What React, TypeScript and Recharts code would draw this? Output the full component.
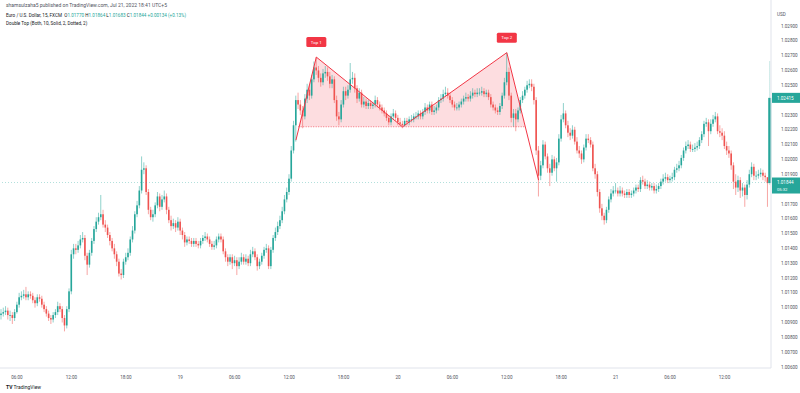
import { ComposedChart, Bar, Line, Area, XAxis, YAxis, ReferenceLine, ReferenceDot } from 'recharts';

const UP = '#26a69a';
const DOWN = '#ef5350';
const PATTERN = '#f23645';
const AXIS_TEXT = '#50535e';

const firstOpen = 1.0095;

// 15 minute closes, Jul 18 04:15 -> Jul 21
const closes = [
  1.0096, 1.0097, 1.0098, 1.0095, 1.0095, 1.0093, 1.0097, 1.0102, 1.0107, 1.0108,
  1.0109, 1.0107, 1.0109, 1.0108, 1.0105, 1.0103, 1.0107, 1.0106, 1.0102, 1.0099,
  1.0096, 1.0093, 1.0092, 1.0095, 1.0097, 1.0101, 1.0099, 1.0093, 1.0088, 1.0099,
  1.0111, 1.0136, 1.014, 1.0139, 1.0142, 1.0146, 1.0147, 1.0135, 1.0129, 1.0137,
  1.0145, 1.0153, 1.0158, 1.0161, 1.0163, 1.0156, 1.0154, 1.0149, 1.0145, 1.014,
  1.0136, 1.0131, 1.0123, 1.0122, 1.0131, 1.0134, 1.0137, 1.0146, 1.0152, 1.0163,
  1.0169, 1.0179, 1.0193, 1.0194, 1.0178, 1.0166, 1.0161, 1.0163, 1.0169, 1.0175,
  1.0168, 1.0173, 1.0175, 1.0166, 1.0159, 1.0155, 1.0157, 1.0154, 1.0158, 1.0152,
  1.0149, 1.0144, 1.0146, 1.0145, 1.0143, 1.0145, 1.0143, 1.0142, 1.0145, 1.0147,
  1.0148, 1.0146, 1.0143, 1.0141, 1.0142, 1.0146, 1.0148, 1.0146, 1.0138, 1.0134,
  1.0131, 1.0134, 1.013, 1.0132, 1.0128, 1.0131, 1.0134, 1.0131, 1.0133, 1.013,
  1.0136, 1.0138, 1.0134, 1.0128, 1.0131, 1.0135, 1.0139, 1.014, 1.0128, 1.0139,
  1.0147, 1.0151, 1.0155, 1.0159, 1.0165, 1.0173, 1.0178, 1.0187, 1.0206, 1.0223,
  1.024, 1.0237, 1.0233, 1.0229, 1.0241, 1.0247, 1.0243, 1.0254, 1.0262, 1.026,
  1.0255, 1.0252, 1.0258, 1.0259, 1.0256, 1.0251, 1.0254, 1.024, 1.0229, 1.0227,
  1.0237, 1.0246, 1.0243, 1.0247, 1.0254, 1.0255, 1.0248, 1.0241, 1.0245, 1.0237,
  1.0239, 1.0236, 1.0238, 1.0236, 1.0237, 1.024, 1.0237, 1.0235, 1.0233, 1.0231,
  1.0228, 1.0225, 1.0229, 1.0231, 1.0228, 1.0225, 1.0224, 1.0223, 1.0226, 1.0225,
  1.0227, 1.0227, 1.0229, 1.0229, 1.0231, 1.0229, 1.0232, 1.0235, 1.0233, 1.0237,
  1.0232, 1.0233, 1.0235, 1.024, 1.0241, 1.0244, 1.0245, 1.0243, 1.024, 1.0237,
  1.0235, 1.0235, 1.0237, 1.0239, 1.0241, 1.0242, 1.0241, 1.0243, 1.0245, 1.0244,
  1.0245, 1.0245, 1.0246, 1.0244, 1.0245, 1.0242, 1.0237, 1.0235, 1.0233, 1.0232,
  1.0236, 1.0243, 1.0252, 1.0259, 1.0243, 1.0228, 1.0231, 1.0227, 1.0233, 1.024,
  1.0243, 1.0247, 1.025, 1.0251, 1.0249, 1.024, 1.0206, 1.0189, 1.0196, 1.021,
  1.0202, 1.0194, 1.0191, 1.02, 1.0194, 1.0198, 1.0214, 1.0227, 1.0231, 1.0223,
  1.0218, 1.0216, 1.022, 1.0212, 1.0206, 1.0204, 1.02, 1.0208, 1.0214, 1.0213,
  1.021, 1.0194, 1.019, 1.0178, 1.0167, 1.0162, 1.0159, 1.0166, 1.0173, 1.0177,
  1.0179, 1.0179, 1.0177, 1.0179, 1.0177, 1.0176, 1.0178, 1.0176, 1.0177, 1.0179,
  1.0181, 1.018, 1.0186, 1.0185, 1.0182, 1.0183, 1.0181, 1.0182, 1.0179, 1.018,
  1.0182, 1.0185, 1.0187, 1.0188, 1.0186, 1.0187, 1.0188, 1.0193, 1.0194, 1.0196,
  1.0201, 1.0206, 1.0209, 1.021, 1.0207, 1.0207, 1.0208, 1.0209, 1.0213, 1.0217,
  1.0224, 1.0225, 1.0219, 1.0224, 1.0227, 1.0229, 1.0219, 1.0218, 1.0216, 1.0209,
  1.0206, 1.0204, 1.0196, 1.0185, 1.0181, 1.0186, 1.0179, 1.0181, 1.0176, 1.0183,
  1.019, 1.0195, 1.0189, 1.0189, 1.019, 1.0191, 1.0189, 1.0188, 1.0184, 1.02415,
];

const highs = [
  1.0099, 1.01, 1.0101, 1.01, 1.0098, 1.0097, 1.0099, 1.0104, 1.011, 1.0111,
  1.0112, 1.0114, 1.0111, 1.0111, 1.011, 1.0107, 1.0109, 1.0109, 1.0108, 1.0104,
  1.0101, 1.0098, 1.0095, 1.0097, 1.0099, 1.0104, 1.0103, 1.0101, 1.0095, 1.0101,
  1.0113, 1.0139, 1.0143, 1.0143, 1.0145, 1.0149, 1.0151, 1.0149, 1.0137, 1.0139,
  1.0147, 1.0155, 1.0161, 1.0164, 1.0176, 1.0166, 1.0159, 1.0156, 1.0151, 1.0147,
  1.0143, 1.0138, 1.0133, 1.0126, 1.0133, 1.0137, 1.014, 1.0148, 1.0155, 1.0165,
  1.0172, 1.0182, 1.0202, 1.0198, 1.0196, 1.018, 1.0168, 1.0166, 1.0171, 1.0178,
  1.0177, 1.0176, 1.0179, 1.0177, 1.0168, 1.0162, 1.016, 1.0159, 1.0161, 1.016,
  1.0154, 1.0151, 1.0148, 1.0148, 1.0147, 1.0147, 1.0147, 1.0145, 1.0147, 1.0149,
  1.0151, 1.015, 1.0148, 1.0145, 1.0145, 1.0148, 1.015, 1.015, 1.0148, 1.014,
  1.0136, 1.0136, 1.0136, 1.0135, 1.0134, 1.0134, 1.0137, 1.0136, 1.0136, 1.0135,
  1.0139, 1.0141, 1.014, 1.0136, 1.0133, 1.0137, 1.0141, 1.0143, 1.0142, 1.0141,
  1.0149, 1.0154, 1.0158, 1.0162, 1.0168, 1.0176, 1.0181, 1.019, 1.0209, 1.0226,
  1.0243, 1.0245, 1.024, 1.0236, 1.0244, 1.0251, 1.025, 1.0257, 1.0266, 1.0269,
  1.0263, 1.0258, 1.0261, 1.0263, 1.0262, 1.0259, 1.0257, 1.0256, 1.0243, 1.0232,
  1.024, 1.0249, 1.0249, 1.025, 1.0265, 1.0259, 1.0258, 1.025, 1.0248, 1.0247,
  1.0242, 1.0241, 1.024, 1.024, 1.0239, 1.0243, 1.0242, 1.0239, 1.0237, 1.0235,
  1.0233, 1.023, 1.0231, 1.0234, 1.0233, 1.023, 1.0228, 1.0226, 1.0228, 1.0228,
  1.0229, 1.023, 1.0231, 1.0232, 1.0233, 1.0233, 1.0234, 1.0238, 1.0237, 1.0239,
  1.0239, 1.0236, 1.0237, 1.0242, 1.0244, 1.0247, 1.0249, 1.0248, 1.0245, 1.0242,
  1.0239, 1.0238, 1.0239, 1.0241, 1.0243, 1.0245, 1.0244, 1.0246, 1.0248, 1.0247,
  1.0248, 1.0248, 1.0249, 1.0248, 1.0247, 1.0247, 1.0244, 1.0239, 1.0237, 1.0235,
  1.0238, 1.0245, 1.0255, 1.0272, 1.0262, 1.0245, 1.0234, 1.0234, 1.0235, 1.0242,
  1.0246, 1.0249, 1.0253, 1.0254, 1.0254, 1.0251, 1.0242, 1.0209, 1.0199, 1.0213,
  1.0212, 1.0204, 1.0197, 1.0203, 1.0202, 1.0201, 1.0217, 1.023, 1.0238, 1.0233,
  1.0226, 1.0221, 1.0223, 1.0222, 1.0215, 1.0209, 1.0206, 1.021, 1.0217, 1.0217,
  1.0215, 1.0212, 1.0197, 1.0192, 1.018, 1.017, 1.0164, 1.0168, 1.0175, 1.018,
  1.0182, 1.0184, 1.0181, 1.0182, 1.0181, 1.0179, 1.018, 1.018, 1.0179, 1.0181,
  1.0183, 1.0183, 1.0188, 1.0189, 1.0187, 1.0186, 1.0185, 1.0184, 1.0184, 1.0183,
  1.0184, 1.0187, 1.019, 1.0191, 1.019, 1.0189, 1.0191, 1.0195, 1.0197, 1.0199,
  1.0203, 1.0208, 1.0212, 1.0213, 1.0212, 1.021, 1.0211, 1.0212, 1.0215, 1.0219,
  1.0226, 1.0228, 1.0227, 1.0227, 1.023, 1.0232, 1.0231, 1.0223, 1.0221, 1.0219,
  1.0212, 1.0209, 1.0206, 1.0198, 1.019, 1.0189, 1.0188, 1.0184, 1.0183, 1.0186,
  1.0193, 1.0198, 1.0197, 1.0192, 1.0193, 1.0194, 1.0193, 1.0191, 1.0186, 1.0266,
];

const lows = [
  1.0092, 1.0094, 1.0095, 1.0092, 1.0091, 1.0089, 1.0091, 1.0096, 1.01, 1.0105,
  1.0106, 1.0105, 1.0105, 1.0106, 1.0103, 1.01, 1.0101, 1.0104, 1.01, 1.0097,
  1.0094, 1.0091, 1.0089, 1.009, 1.0093, 1.0095, 1.0097, 1.009, 1.0084, 1.0086,
  1.0097, 1.0109, 1.0133, 1.0136, 1.0137, 1.014, 1.0144, 1.0132, 1.0122, 1.0127,
  1.0135, 1.0143, 1.0151, 1.0156, 1.0159, 1.0154, 1.0151, 1.0147, 1.0142, 1.0138,
  1.0133, 1.0128, 1.0121, 1.0119, 1.012, 1.0129, 1.0132, 1.0135, 1.0144, 1.015,
  1.0161, 1.0167, 1.0177, 1.019, 1.0176, 1.0163, 1.0159, 1.0158, 1.0161, 1.0167,
  1.0165, 1.0166, 1.0171, 1.0163, 1.0157, 1.0152, 1.0153, 1.0151, 1.0152, 1.0149,
  1.0146, 1.0141, 1.0142, 1.0143, 1.0141, 1.0141, 1.0141, 1.014, 1.014, 1.0143,
  1.0145, 1.0144, 1.0141, 1.0139, 1.0139, 1.014, 1.0144, 1.0144, 1.0136, 1.0131,
  1.0128, 1.0129, 1.0126, 1.0128, 1.0122, 1.0126, 1.0129, 1.0129, 1.0129, 1.0128,
  1.0128, 1.0134, 1.0132, 1.0125, 1.0126, 1.0129, 1.0133, 1.0137, 1.0126, 1.0126,
  1.0137, 1.0145, 1.0149, 1.0153, 1.0157, 1.0163, 1.0171, 1.0176, 1.0185, 1.0204,
  1.0212, 1.0234, 1.023, 1.0221, 1.0227, 1.0238, 1.024, 1.0241, 1.0252, 1.0257,
  1.0252, 1.0249, 1.025, 1.0255, 1.0253, 1.0248, 1.0248, 1.0238, 1.0226, 1.0223,
  1.0225, 1.0235, 1.024, 1.0241, 1.0245, 1.0251, 1.0245, 1.0238, 1.0239, 1.0235,
  1.0235, 1.0234, 1.0234, 1.0234, 1.0234, 1.0235, 1.0235, 1.0233, 1.0231, 1.0229,
  1.0226, 1.0223, 1.0223, 1.0227, 1.0226, 1.0223, 1.0222, 1.0221, 1.0222, 1.0223,
  1.0223, 1.0225, 1.0225, 1.0227, 1.0227, 1.0227, 1.0227, 1.023, 1.0231, 1.0231,
  1.023, 1.023, 1.0231, 1.0233, 1.0238, 1.0239, 1.0242, 1.0241, 1.0238, 1.0235,
  1.0233, 1.0233, 1.0233, 1.0235, 1.0237, 1.0239, 1.0239, 1.0239, 1.0241, 1.0242,
  1.0242, 1.0243, 1.0243, 1.0242, 1.0242, 1.024, 1.0235, 1.0233, 1.0231, 1.023,
  1.023, 1.0234, 1.0241, 1.025, 1.024, 1.0225, 1.0222, 1.0219, 1.0225, 1.0231,
  1.0238, 1.0241, 1.0245, 1.0248, 1.0246, 1.0237, 1.0203, 1.0175, 1.0186, 1.0194,
  1.02, 1.0191, 1.0182, 1.0189, 1.0192, 1.0185, 1.0196, 1.0212, 1.0225, 1.0221,
  1.0215, 1.0213, 1.0214, 1.021, 1.0204, 1.0201, 1.0197, 1.0198, 1.0206, 1.0211,
  1.0208, 1.0192, 1.0187, 1.0175, 1.0164, 1.0159, 1.0156, 1.0157, 1.0164, 1.0171,
  1.0175, 1.0177, 1.0175, 1.0175, 1.0175, 1.0174, 1.0174, 1.0174, 1.0174, 1.0175,
  1.0177, 1.0178, 1.0178, 1.0183, 1.018, 1.018, 1.0179, 1.0179, 1.0177, 1.0177,
  1.0178, 1.018, 1.0183, 1.0185, 1.0184, 1.0184, 1.0185, 1.0186, 1.0191, 1.0192,
  1.0194, 1.0199, 1.0204, 1.0207, 1.0205, 1.0205, 1.0205, 1.0206, 1.0207, 1.0211,
  1.0215, 1.0222, 1.0209, 1.0217, 1.0222, 1.0225, 1.0217, 1.0215, 1.0213, 1.0207,
  1.0203, 1.0201, 1.0193, 1.018, 1.0176, 1.0178, 1.0174, 1.0175, 1.0168, 1.0173,
  1.0181, 1.0188, 1.0186, 1.0186, 1.0187, 1.0188, 1.0186, 1.0185, 1.0168, 1.0183,
];

const tickIdx = [7, 31, 55, 79, 103, 127, 151, 175, 199, 223, 247, 271, 295, 319];
const tickLabels = ['06:00', '12:00', '18:00', '19', '06:00', '12:00', '18:00', '20', '06:00', '12:00', '18:00', '21', '06:00', '12:00'];

// 1.018 and 1.024 sit under the two price tags, so they are left out
const priceTicks = [
  1.006, 1.007, 1.008, 1.009, 1.01, 1.011, 1.012, 1.013, 1.014, 1.015, 1.016, 1.017,
  1.019, 1.02, 1.021, 1.022, 1.023, 1.025, 1.026, 1.027, 1.028, 1.029,
];

// double top drawing: zigzag through the two tops, fill down to the neckline
const zigIdx = [130, 139, 177, 223, 237];
const zigPrice = [1.0213, 1.0269, 1.0222, 1.0272, 1.0186];
const fillIdx = [131, 139, 177, 223, 231];
const fillPrice = [1.0222, 1.0269, 1.0222, 1.0272, 1.0222];
const neckline = 1.0222;
const neckStart = 131;
const neckEnd = 231;

const lastPrice = 1.01844;
const markPrice = 1.02415;

const data = closes.map((c, i) => {
  const zi = zigIdx.indexOf(i);
  const fi = fillIdx.indexOf(i);
  return {
    i,
    open: i === 0 ? firstOpen : closes[i - 1],
    close: c,
    high: highs[i],
    low: lows[i],
    range: [lows[i], highs[i]],
    zig: zi >= 0 ? zigPrice[zi] : null,
    zigFill: fi >= 0 ? fillPrice[fi] : null,
  };
});

function Candle(props: any) {
  const { x, y, width, height } = props;
  const d = props.payload ?? props;
  const top = Math.min(y, y + height);
  const h = Math.abs(height);
  const span = d.high - d.low || 1e-9;
  const py = (p: number) => top + ((d.high - p) / span) * h;
  const color = d.close >= d.open ? UP : DOWN;
  const cx = x + width / 2;
  const bTop = py(Math.max(d.open, d.close));
  const bBot = py(Math.min(d.open, d.close));
  const last = d.i === closes.length - 1;
  const bw = last ? 3 : Math.max(1, width * 0.8);
  return (
    <g>
      <line x1={cx} x2={cx} y1={top} y2={top + h} stroke={color} strokeOpacity={0.65} strokeWidth={0.8} strokeDasharray={last ? '1 1' : undefined} />
      <rect x={cx - bw / 2} y={bTop} width={bw} height={Math.max(0.8, bBot - bTop)} fill={color} />
    </g>
  );
}

function TopLabel({ cx, cy, text }: any) {
  return (
    <g>
      <rect x={cx - 10} y={cy - 20} width={20} height={10} rx={1.5} fill={PATTERN} />
      <text x={cx} y={cy - 13.3} textAnchor="middle" fontSize={4.4} fill="#fff" fontFamily="Roboto">{text}</text>
    </g>
  );
}

function PriceTag({ viewBox, value, sub }: any) {
  const x = viewBox.x + viewBox.width + 1;
  const h = sub ? 16 : 10;
  return (
    <g>
      <rect x={x} y={viewBox.y - 5} width={28} height={h} fill={UP} />
      <text x={x + 5} y={viewBox.y + 1.7} fontSize={4.6} fill="#fff" fontFamily="Roboto">{value}</text>
      {sub && <text x={x + 5} y={viewBox.y + 8.3} fontSize={4.2} fill="#fff" fontFamily="Roboto">{sub}</text>}
    </g>
  );
}

const textStyle = { fontFamily: 'Roboto, sans-serif', whiteSpace: 'nowrap' as const, position: 'absolute' as const, left: 6 };

export default function App() {
  return (
    <div style={{ position: 'absolute', left: 0, top: 0, width: 800, height: 393, background: '#fff', overflow: 'hidden' }}>
      <ComposedChart width={800} height={384} data={data} margin={{ top: 0, right: 0, bottom: 0, left: 0 }} barCategoryGap={0} barGap={0}>
        <XAxis
          dataKey="i"
          ticks={tickIdx}
          interval={0}
          tickFormatter={(v: number) => tickLabels[tickIdx.indexOf(v)] ?? ''}
          tickLine={false}
          axisLine={{ stroke: '#e0e3eb' }}
          tick={{ fontSize: 4.6, fill: AXIS_TEXT, fontFamily: 'Roboto' }}
          tickMargin={2}
          height={16}
        />
        <YAxis
          orientation="right"
          width={29}
          domain={[1.00593, 1.03075]}
          allowDataOverflow
          ticks={priceTicks}
          interval={0}
          tickFormatter={(v: number) => v.toFixed(5)}
          tickLine={false}
          axisLine={{ stroke: '#e0e3eb' }}
          tick={{ fontSize: 4.6, fill: AXIS_TEXT, fontFamily: 'Roboto' }}
          tickMargin={4}
        />
        <ReferenceLine y={lastPrice} stroke={UP} strokeOpacity={0.6} strokeDasharray="1 2" strokeWidth={0.6} label={<PriceTag value="1.01844" sub="05:32" />} />
        <ReferenceLine y={markPrice} stroke="none" label={<PriceTag value="1.02415" />} />
        <Area
          dataKey="zigFill"
          type="linear"
          connectNulls
          baseValue={neckline}
          stroke="none"
          fill={PATTERN}
          fillOpacity={0.17}
          isAnimationActive={false}
          dot={false}
          activeDot={false}
        />
        <ReferenceLine
          segment={[{ x: neckStart, y: neckline }, { x: neckEnd, y: neckline }]}
          stroke={PATTERN}
          strokeDasharray="1 1.5"
          strokeWidth={0.7}
        />
        <Bar dataKey="range" shape={<Candle />} isAnimationActive={false} />
        <Line
          dataKey="zig"
          type="linear"
          connectNulls
          stroke={PATTERN}
          strokeWidth={1}
          dot={false}
          activeDot={false}
          isAnimationActive={false}
        />
        <ReferenceDot x={zigIdx[1]} y={zigPrice[1]} r={0} shape={(p: any) => <TopLabel cx={p.cx} cy={p.cy} text="Top 1" />} />
        <ReferenceDot x={zigIdx[3]} y={zigPrice[3]} r={0} shape={(p: any) => <TopLabel cx={p.cx} cy={p.cy} text="Top 2" />} />
      </ComposedChart>
      <div style={{ ...textStyle, top: 2, fontSize: 5, color: '#50535e' }}>
        shamsulzaha5 published on TradingView.com, Jul 21, 2022 18:41 UTC+5
      </div>
      <div style={{ ...textStyle, top: 13, fontSize: 4.6, color: '#131722' }}>
        Euro / U.S. Dollar, 15, FXCM&nbsp; O<span style={{ color: UP }}>1.01770</span> H<span style={{ color: UP }}>1.01864</span> L<span style={{ color: UP }}>1.01683</span> C<span style={{ color: UP }}>1.01844</span> <span style={{ color: UP }}>+0.00134 (+0.13%)</span>
      </div>
      <div style={{ ...textStyle, top: 21, fontSize: 4.6, color: '#131722' }}>
        Double Top (Both, 10, Solid, 2, Dotted, 2)
      </div>
      <div style={{ position: 'absolute', left: 777, top: 12, fontSize: 4.6, color: AXIS_TEXT, fontFamily: 'Roboto' }}>USD</div>
      <div style={{ ...textStyle, top: 384, fontSize: 5, color: '#131722' }}>
        <b>TV</b> TradingView
      </div>
    </div>
  );
}
